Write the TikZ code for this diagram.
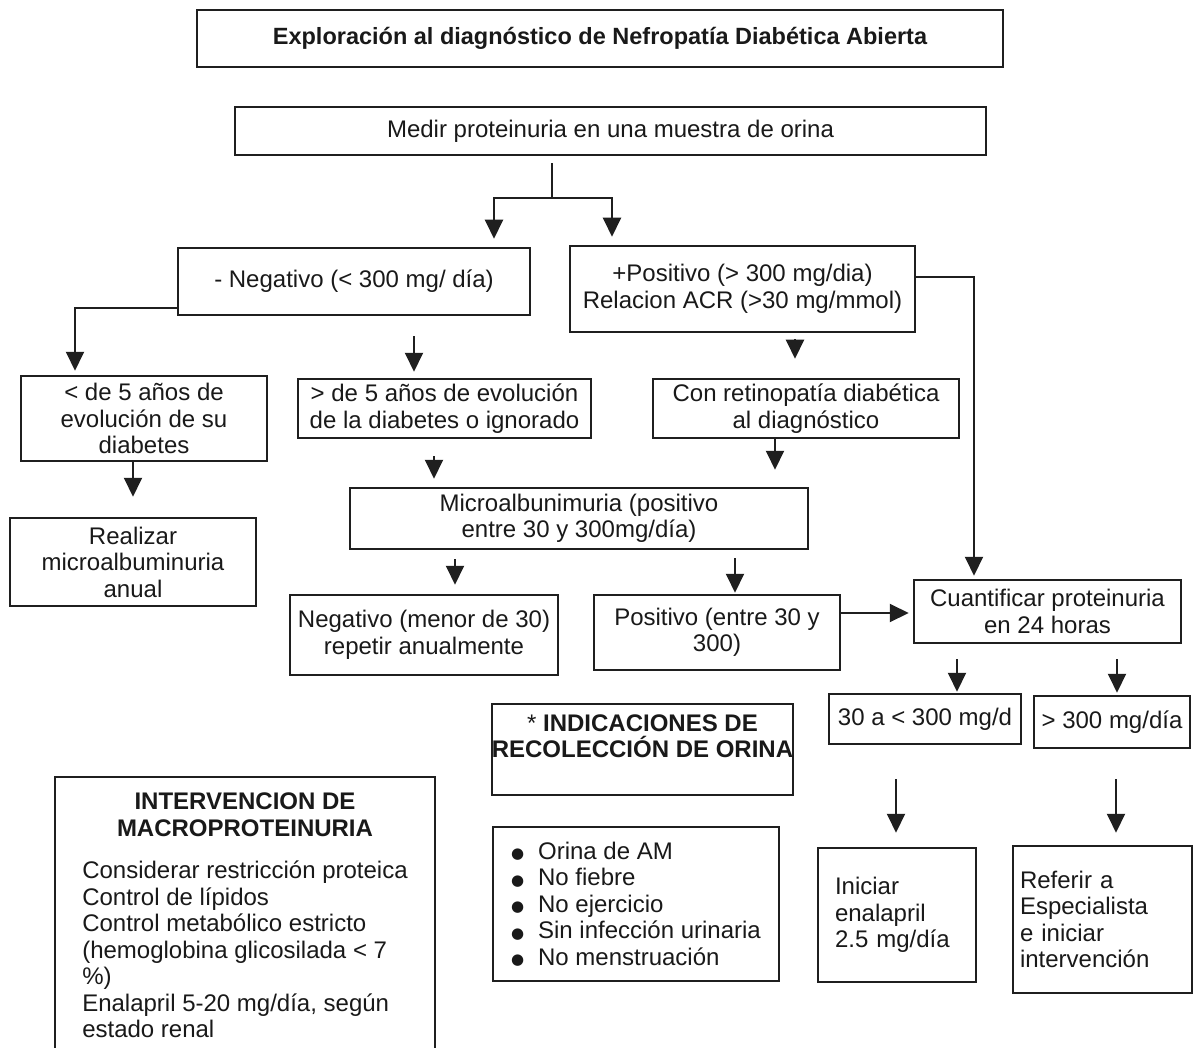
\documentclass[tikz,border=0pt]{standalone}
\usepackage{fontspec}
\setmainfont{Liberation Sans}
\newfontfamily\dgdejavu{DejaVu Sans}
\usetikzlibrary{arrows.meta}
\newcommand\dgbody{\fontsize{24}{26.5}\selectfont}
\newcommand\dgbul{\makebox[27pt][l]{\raisebox{0.5pt}{\dgdejavu\fontsize{15}{15}\selectfont ●}}}
\begin{document}
\begin{tikzpicture}[x=1pt,y=-1pt,
  box/.style={draw=black!88, line width=2.5pt, inner sep=0pt, align=center, font=\dgbody, text=black!90},
  conn/.style={draw=black!88, line width=2pt},
  arr/.style={conn, -{Triangle[width=18pt,length=19pt]}}]
\useasboundingbox (0,0) rectangle (1196,1048);
\fill[white] (0,0) rectangle (1196,1048);

\node[box, minimum width=806pt, minimum height=57pt, font=\fontsize{23.5}{26}\selectfont\bfseries] (title) at (600,38.5) {Exploración al diagnóstico de Nefropatía Diabética Abierta};
\node[box, minimum width=751pt, minimum height=48pt] (medir) at (610.5,131) {Medir proteinuria en una muestra de orina};
\node[box, minimum width=352pt, minimum height=67pt] (neg) at (354,281.5) {- Negativo (< 300 mg/ día)};
\node[box, minimum width=345pt, minimum height=86pt] (pos) at (742.5,289) {+Positivo (> 300 mg/dia)\\Relacion ACR (>30 mg/mmol)};
\node[box, minimum width=246pt, minimum height=85pt] (lt5) at (144,418.5) {< de 5 años de\\evolución de su\\diabetes};
\node[box, minimum width=293pt, minimum height=59pt] (gt5) at (444.5,408.5) {> de 5 años de evolución\\de la diabetes o ignorado};
\node[box, minimum width=306pt, minimum height=59pt] (retino) at (806,408.5) {Con retinopatía diabética\\al diagnóstico};
\node[box, minimum width=246pt, minimum height=88pt] (realizar) at (133,562) {Realizar\\microalbuminuria\\anual};
\node[box, minimum width=458pt, minimum height=61pt] (micro) at (579,518.5) {Microalbunimuria (positivo\\entre 30 y 300mg/día)};
\node[box, minimum width=268pt, minimum height=80pt] (negmenor) at (424,635) {Negativo (menor de 30)\\repetir anualmente};
\node[box, minimum width=246pt, minimum height=75pt] (posentre) at (717,632.5) {Positivo (entre 30 y\\300)};
\node[box, minimum width=267pt, minimum height=63pt] (cuant) at (1047.5,611.5) {Cuantificar proteinuria\\en 24 horas};
\node[box, minimum width=192pt, minimum height=50pt] (b30) at (925,719) {30 a < 300 mg/d};
\node[box, minimum width=156pt, minimum height=52pt] (b300) at (1112,722) {> 300 mg/día};
\node[box, minimum width=158pt, minimum height=134pt, align=left, text width=124pt, inner xsep=17pt] (inic) at (897,915) {Iniciar\\enalapril\\2.5 mg/día};
\node[box, minimum width=179pt, minimum height=147pt, align=left, text width=165pt, inner xsep=7pt] (refer) at (1102.5,919.5) {Referir a\\Especialista\\e iniciar\\intervención};
\node[box, minimum width=299pt, minimum height=91pt] (indic) at (642.5,749.5) {* \textbf{INDICACIONES DE}\\\textbf{RECOLECCIÓN DE ORINA}\\\mbox{}};
\node[box, minimum width=286pt, minimum height=154pt, align=left] (bullets) at (636,904) {\dgbul Orina de AM\\\dgbul No fiebre\\\dgbul No ejercicio\\\dgbul Sin infección urinaria\\\dgbul No menstruación};
\node[box, minimum width=380pt, minimum height=283pt] (interv) at (245,918.5) {\begin{tabular}{@{}l@{}}\multicolumn{1}{@{}c@{}}{\bfseries INTERVENCION DE}\\\multicolumn{1}{@{}c@{}}{\bfseries MACROPROTEINURIA}\\[16pt]Considerar restricción proteica\\Control de lípidos\\Control metabólico estricto\\(hemoglobina glicosilada < 7\\\%)\\Enalapril 5-20 mg/día, según\\estado renal\end{tabular}};

\coordinate (sp) at (552,198);
\draw[conn] ([xshift=-58.5pt,yshift=-7pt]medir.south) -- (sp);
\draw[arr] (sp) -| ([xshift=140pt,yshift=8pt]neg.north);
\draw[arr] (sp) -| ([xshift=-130.5pt,yshift=8pt]pos.north);
\draw[arr] ([yshift=-26.5pt]neg.west) -| ([xshift=-69pt,yshift=4pt]lt5.north);
\draw[arr] ([xshift=60pt,yshift=-20pt]neg.south) -- ([xshift=-30.5pt,yshift=6pt]gt5.north);
\draw[arr] ([xshift=52.5pt,yshift=-6pt]pos.south) -- ([xshift=-11pt,yshift=19pt]retino.north);
\draw[arr] ([yshift=12pt]pos.east) -| ([xshift=-73.5pt,yshift=3pt]cuant.north);
\draw[arr] ([xshift=-11pt]lt5.south) -- ([yshift=20pt]realizar.north);
\draw[arr] ([xshift=-10.5pt,yshift=-17pt]gt5.south) -- ([xshift=-145pt,yshift=8pt]micro.north);
\draw[arr] ([xshift=-31pt]retino.south) -- ([xshift=196pt,yshift=17pt]micro.north);
\draw[arr] ([xshift=-124pt,yshift=-9pt]micro.south) -- ([xshift=31pt,yshift=9pt]negmenor.north);
\draw[arr] ([xshift=156pt,yshift=-8pt]micro.south) -- ([xshift=18pt,yshift=1pt]posentre.north);
\draw[arr] ([yshift=19.5pt]posentre.east) -- ([xshift=-4pt,yshift=-1.5pt]cuant.west);
\draw[arr] ([xshift=-90.5pt,yshift=-15pt]cuant.south) -- ([xshift=32pt,yshift=1pt]b30.north);
\draw[arr] ([xshift=69.5pt,yshift=-15pt]cuant.south) -- ([xshift=5pt,yshift=2pt]b300.north);
\draw[arr] ([xshift=-29pt,yshift=-34pt]b30.south) -- ([xshift=-1pt,yshift=14pt]inic.north);
\draw[arr] ([xshift=4pt,yshift=-30pt]b300.south) -- ([xshift=13.5pt,yshift=12pt]refer.north);
\end{tikzpicture}
\end{document}
